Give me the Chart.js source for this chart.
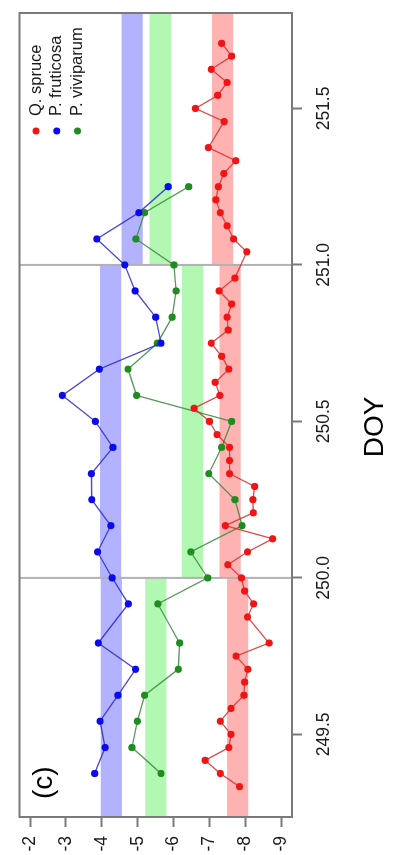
<!DOCTYPE html>
<html>
<head>
<meta charset="utf-8">
<title>DOY</title>
<script src="https://cdn.jsdelivr.net/npm/chart.js@4/dist/chart.umd.min.js"></script>
<style>
  html, body { margin: 0; padding: 0; background: #fff; overflow: hidden; width: 393px; height: 855px; }
  /* the plot is laid out landscape and turned a quarter turn counter-clockwise */
  #frame { position: absolute; left: 0; top: 0; width: 855px; height: 393px;
           transform-origin: 0 0; transform: translate(0, 855px) rotate(-90deg); }
  canvas { display: block; }
</style>
</head>
<body>
<div id="frame"><canvas id="chart" width="855" height="393"></canvas></div>
<script>
// Q. spruce, hourly
const spruceDoy = [249.333, 249.375, 249.417, 249.458, 249.500, 249.542, 249.583, 249.625, 249.667, 249.708,
  249.750, 249.792, 249.875, 249.917, 249.958, 250.000, 250.042, 250.083, 250.125, 250.167,
  250.208, 250.250, 250.292, 250.333, 250.375, 250.417, 250.458, 250.500, 250.542, 250.583,
  250.625, 250.667, 250.708, 250.750, 250.792, 250.833, 250.875, 250.917, 250.958, 251.042,
  251.083, 251.125, 251.167, 251.208, 251.250, 251.292, 251.333, 251.375, 251.458, 251.500,
  251.542, 251.583, 251.625, 251.667, 251.708];
const spruceVal = [-7.84, -7.30, -6.88, -7.54, -7.60, -7.30, -7.60, -7.96, -7.98, -8.07,
  -7.74, -8.66, -8.06, -8.23, -7.98, -7.89, -7.51, -8.06, -8.76, -7.44,
  -8.22, -8.21, -8.26, -7.56, -7.56, -7.56, -7.21, -7.00, -6.57, -7.29,
  -7.16, -7.54, -7.34, -7.05, -7.52, -7.49, -7.62, -7.27, -7.71, -8.04,
  -7.67, -7.49, -7.30, -7.18, -7.25, -7.40, -7.73, -6.97, -7.41, -6.61,
  -7.23, -7.49, -7.05, -7.62, -7.34];

// P. fruticosa, two-hourly
const fruticosaDoy = [249.375, 249.458, 249.542, 249.625, 249.708, 249.792, 249.917, 250.000, 250.083, 250.167,
  250.250, 250.333, 250.417, 250.500, 250.583, 250.667, 250.750, 250.833, 250.917, 251.000,
  251.083, 251.167, 251.250];
const fruticosaVal = [-3.80, -4.09, -3.95, -4.45, -4.94, -3.90, -4.74, -4.29, -3.88, -4.25,
  -3.72, -3.71, -4.31, -3.82, -2.90, -3.93, -5.65, -5.50, -4.93, -4.64,
  -3.86, -5.03, -5.85];

// P. viviparum, two-hourly
const viviparumDoy = [249.375, 249.458, 249.542, 249.625, 249.708, 249.792, 249.917, 250.000, 250.083, 250.167,
  250.250, 250.333, 250.417, 250.500, 250.583, 250.667, 250.750, 250.833, 250.917, 251.000,
  251.083, 251.167, 251.250];
const viviparumVal = [-5.65, -4.84, -4.99, -5.19, -6.13, -6.17, -5.56, -6.95, -6.48, -7.91,
  -7.71, -6.98, -7.34, -7.62, -4.97, -4.73, -5.55, -5.96, -6.07, -6.01,
  -4.95, -5.19, -6.42];

// Three day panels and their shaded ranges per species
const panelStart = [249.0, 250.0, 251.0];
const panelEnd   = [250.0, 251.0, 252.0];
const spruceBandHigh    = [-7.49, -7.28, -7.07];
const spruceBandLow     = [-8.08, -7.87, -7.66];
const fruticosaBandHigh = [-3.97, -3.95, -4.55];
const fruticosaBandLow  = [-4.56, -4.54, -5.14];
const viviparumBandHigh = [-5.21, -6.23, -5.33];
const viviparumBandLow  = [-5.80, -6.82, -5.93];
const panelBreaks = [250.0, 251.0];

// Axis ticks
const doyTicks = [249.5, 250.0, 250.5, 251.0, 251.5];
const doyTickLabels = ['249.5', '250.0', '250.5', '251.0', '251.5'];
const valueTicks = [-2, -3, -4, -5, -6, -7, -8, -9];
const valueTickLabels = ['-2', '-3', '-4', '-5', '-6', '-7', '-8', '-9'];

const seriesNames = ['Q. spruce', 'P. fruticosa', 'P. viviparum'];

const FONT = "'Liberation Sans', Arial, Helvetica, sans-serif";
const TEXT = '#1a1a1a';
const FRAME = '#7a7a7a';

const pointColors = ['#f01414', '#0a0af0', '#1e8c1e'];
const lineColors = ['rgba(215,45,45,0.85)', 'rgba(40,40,200,0.85)', 'rgba(60,135,60,0.85)'];
const bandColors = ['rgba(255,0,0,0.3)', 'rgba(0,0,255,0.3)', 'rgba(0,230,0,0.3)'];

const pairs = (xs, ys) => xs.map((x, i) => ({ x: x, y: ys[i] }));

const bands = [
  { high: spruceBandHigh, low: spruceBandLow, color: bandColors[0] },
  { high: fruticosaBandHigh, low: fruticosaBandLow, color: bandColors[1] },
  { high: viviparumBandHigh, low: viviparumBandLow, color: bandColors[2] }
];

const panelDecor = {
  id: 'panelDecor',
  beforeDatasetsDraw(chart) {
    const { ctx, chartArea: a, scales: { x, y } } = chart;
    ctx.save();
    ctx.beginPath();
    ctx.rect(a.left, a.top, a.right - a.left, a.bottom - a.top);
    ctx.clip();
    bands.forEach(b => {
      ctx.fillStyle = b.color;
      panelStart.forEach((s, i) => {
        const x0 = x.getPixelForValue(s), x1 = x.getPixelForValue(panelEnd[i]);
        const y0 = y.getPixelForValue(b.high[i]), y1 = y.getPixelForValue(b.low[i]);
        ctx.fillRect(x0, y0, x1 - x0, y1 - y0);
      });
    });
    ctx.strokeStyle = '#b2b2b2';
    ctx.lineWidth = 2;
    panelBreaks.forEach(d => {
      const px = x.getPixelForValue(d);
      ctx.beginPath();
      ctx.moveTo(px, a.top);
      ctx.lineTo(px, a.bottom);
      ctx.stroke();
    });
    ctx.restore();
  },
  afterDatasetsDraw(chart) {
    const { ctx, chartArea: a } = chart;
    ctx.save();
    // plot frame
    ctx.strokeStyle = FRAME;
    ctx.lineWidth = 2;
    ctx.strokeRect(a.left, a.top, a.right - a.left, a.bottom - a.top);

    // legend, top right
    ctx.font = '16.5px ' + FONT;
    ctx.textAlign = 'left';
    ctx.textBaseline = 'middle';
    seriesNames.forEach((name, i) => {
      const rowY = 36 + i * 20.7;
      ctx.fillStyle = pointColors[i];
      ctx.beginPath();
      ctx.arc(724, rowY, 3.5, 0, Math.PI * 2);
      ctx.fill();
      ctx.fillStyle = TEXT;
      ctx.fillText(name, 739, rowY);
    });

    // panel tag
    ctx.font = '28px ' + FONT;
    ctx.textBaseline = 'alphabetic';
    ctx.fillStyle = '#000';
    ctx.fillText('(c)', 56, 52);

    // axis title
    ctx.textAlign = 'center';
    ctx.fillText('DOY', 428, 383);
    ctx.restore();
  }
};

new Chart(document.getElementById('chart'), {
  type: 'line',
  data: {
    datasets: [
      { label: seriesNames[0], data: pairs(spruceDoy, spruceVal) },
      { label: seriesNames[1], data: pairs(fruticosaDoy, fruticosaVal) },
      { label: seriesNames[2], data: pairs(viviparumDoy, viviparumVal) }
    ].map((d, i) => Object.assign(d, {
      borderColor: lineColors[i],
      backgroundColor: pointColors[i],
      pointBackgroundColor: pointColors[i],
      pointBorderWidth: 0,
      pointRadius: 3.6,
      borderWidth: 1.3,
      tension: 0,
      fill: false
    }))
  },
  options: {
    responsive: false,
    animation: false,
    events: [],
    layout: { padding: { top: 16, right: 13, left: 0, bottom: 0 } },
    plugins: { legend: { display: false }, tooltip: { enabled: false } },
    scales: {
      x: {
        type: 'linear',
        position: 'bottom',
        min: 249.236,
        max: 251.805,
        afterBuildTicks: s => { s.ticks = doyTicks.map(v => ({ value: v })); },
        afterFit: s => { s.height = 101; },
        ticks: {
          autoSkip: false,
          maxRotation: 0,
          padding: 12,
          color: TEXT,
          font: { family: FONT, size: 17.5 },
          callback: v => doyTickLabels[doyTicks.indexOf(v)]
        },
        grid: { drawOnChartArea: false, drawTicks: true, tickLength: 10, tickColor: FRAME, tickWidth: 2 },
        border: { display: false }
      },
      y: {
        type: 'linear',
        position: 'left',
        min: -9.30,
        max: -1.706,
        afterBuildTicks: s => { s.ticks = valueTicks.map(v => ({ value: v })); },
        afterFit: s => { s.width = 38; },
        ticks: {
          autoSkip: false,
          padding: 9,
          color: TEXT,
          font: { family: FONT, size: 17.5 },
          callback: v => valueTickLabels[valueTicks.indexOf(v)]
        },
        grid: { drawOnChartArea: false, drawTicks: true, tickLength: 10, tickColor: FRAME, tickWidth: 2 },
        border: { display: false }
      }
    }
  },
  plugins: [panelDecor]
});
</script>
</body>
</html>
